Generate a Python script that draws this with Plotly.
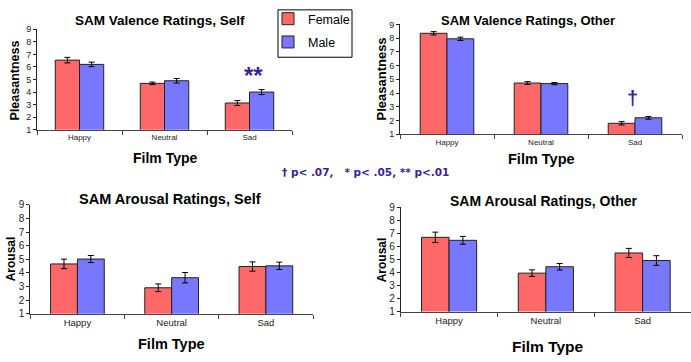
import plotly.graph_objects as go

categories = ["Happy", "Neutral", "Sad"]
y_ticks = [1, 2, 3, 4, 5, 6, 7, 8, 9]

# Valence, Self
val_self_f = [6.54, 4.69, 3.13]
val_self_m = [6.20, 4.90, 4.00]
val_self_f_err = [0.22, 0.10, 0.20]
val_self_m_err = [0.18, 0.18, 0.20]
# Valence, Other
val_other_f = [8.35, 4.73, 1.80]
val_other_m = [7.95, 4.69, 2.20]
val_other_f_err = [0.12, 0.10, 0.12]
val_other_m_err = [0.12, 0.08, 0.10]
# Arousal, Self
aro_self_f = [4.66, 2.91, 4.47]
aro_self_m = [5.02, 3.65, 4.52]
aro_self_f_err = [0.35, 0.28, 0.34]
aro_self_m_err = [0.26, 0.38, 0.27]
# Arousal, Other
aro_other_f = [6.70, 3.95, 5.50]
aro_other_m = [6.47, 4.44, 4.92]
aro_other_f_err = [0.40, 0.25, 0.35]
aro_other_m_err = [0.30, 0.25, 0.37]

W, H = 691, 362
RED = "#ff6868"
BLUE = "#7878ff"
SIG = "#3c1f99"
FONT = "Liberation Sans, Arial, sans-serif"

def px(x):
    return x / W

def py(y):
    return 1 - y / H

panels = [
    dict(f=val_self_f, m=val_self_m, fe=val_self_f_err, me=val_self_m_err,
         xd=[px(37), px(292)], yd=[py(128), py(24)], tick=8, ytick=9),
    dict(f=val_other_f, m=val_other_m, fe=val_other_f_err, me=val_other_m_err,
         xd=[px(400), px(682)], yd=[py(132.7), py(19)], tick=8, ytick=9),
    dict(f=aro_self_f, m=aro_self_m, fe=aro_self_f_err, me=aro_self_m_err,
         xd=[px(30.3), px(313)], yd=[py(318.3), py(205.7)], tick=9.5, ytick=10),
    dict(f=aro_other_f, m=aro_other_m, fe=aro_other_f_err, me=aro_other_m_err,
         xd=[px(400.7), 1.0], yd=[py(316), py(208.3)], tick=9.5, ytick=10),
]

fig = go.Figure()
layout = {}
for i, p in enumerate(panels):
    n = "" if i == 0 else str(i + 1)
    xa, ya = "x" + n, "y" + n
    fig.add_trace(go.Bar(
        x=categories, y=p["f"], name="Female", xaxis=xa, yaxis=ya,
        marker=dict(color=RED, line=dict(color="#222222", width=1)),
        error_y=dict(type="data", array=p["fe"], color="black", thickness=1, width=3),
        showlegend=(i == 0), legendgroup="f"))
    fig.add_trace(go.Bar(
        x=categories, y=p["m"], name="Male", xaxis=xa, yaxis=ya,
        marker=dict(color=BLUE, line=dict(color="#222222", width=1)),
        error_y=dict(type="data", array=p["me"], color="black", thickness=1, width=3),
        showlegend=(i == 0), legendgroup="m"))
    layout["xaxis" + n] = dict(
        domain=p["xd"], anchor=ya, showline=True, linecolor="#444444", linewidth=1,
        ticks="outside", tickson="boundaries", ticklen=4, tickcolor="#444444",
        tickfont=dict(size=p["tick"], color="#222222", family=FONT), showgrid=False,
        fixedrange=True)
    layout["yaxis" + n] = dict(
        domain=p["yd"], anchor=xa, range=[1, 9], tickvals=y_ticks,
        showline=True, linecolor="#222222", linewidth=1, ticks="outside", ticklen=3,
        tickcolor="#222222", tickfont=dict(size=p["ytick"], color="#222222", family=FONT),
        showgrid=False, zeroline=False, fixedrange=True)

fig.update_layout(**layout)

def ann(text, x, y, size, bold=True, color="black", angle=0, family=FONT):
    return dict(text=("<b>%s</b>" % text) if bold else text, x=px(x), y=py(y),
                xref="paper", yref="paper", showarrow=False, textangle=angle,
                xanchor="center", yanchor="middle",
                font=dict(size=size, color=color, family=family))

annotations = [
    ann("SAM Valence Ratings, Self", 160, 15, 13.5),
    ann("SAM Valence Ratings, Other", 528, 15, 13),
    ann("SAM Arousal Ratings, Self", 170, 199.5, 14.5),
    ann("SAM Arousal Ratings, Other", 544, 202, 14),
    ann("Film Type", 165, 157, 14),
    ann("Film Type", 541, 158, 14.5),
    ann("Film Type", 171, 350, 14.5),
    ann("Film Type", 548, 352.5, 15.5),
    ann("Pleasantness", 15, 77, 12.5, angle=-90),
    ann("Pleasantness", 382, 75, 13, angle=-90),
    ann("Arousal", 11, 261, 12, angle=-90),
    ann("Arousal", 382, 262, 12, angle=-90),
    ann("**", 253, 72, 24, color=SIG),
    ann("†", 632, 95, 20, color=SIG),
    ann("† p&lt; .07,&nbsp;&nbsp; * p&lt; .05, ** p&lt;.01", 365, 172, 10.5, color=SIG,
        family="DejaVu Sans, Verdana, sans-serif"),
]

legend_box = dict(type="rect", xref="paper", yref="paper",
                  x0=px(278), x1=px(352), y0=py(53), y1=py(4),
                  line=dict(color="black", width=1), fillcolor="rgba(0,0,0,0)", layer="above")

fig.update_layout(
    width=W, height=H, margin=dict(l=0, r=0, t=0, b=0),
    paper_bgcolor="white", plot_bgcolor="white",
    barmode="group", bargap=0.43, bargroupgap=0.0,
    font=dict(family=FONT, color="black"),
    annotations=annotations,
    shapes=[legend_box],
    legend=dict(x=px(268), y=py(-2), xanchor="left", yanchor="top",
                borderwidth=0, bgcolor="rgba(0,0,0,0)",
                font=dict(size=12.5, family=FONT, color="black"),
                traceorder="grouped", tracegroupgap=4, itemwidth=30),
)

fig.write_html("out.html", config={"displayModeBar": False},
               post_script="document.body.style.margin='0';document.body.style.overflow='hidden';")
